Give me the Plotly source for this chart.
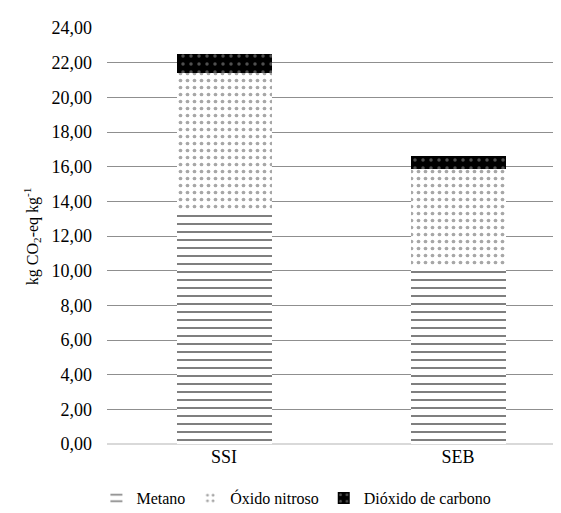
import plotly.graph_objects as go

categories = ["SSI", "SEB"]
metano = [13.43, 10.25]
oxido_nitroso = [7.97, 5.63]
dioxido_carbono = [1.10, 0.74]

series_names = ["Metano", "Óxido nitroso", "Dióxido de carbono"]
y_ticks = [0, 2, 4, 6, 8, 10, 12, 14, 16, 18, 20, 22, 24]
y_title = "kg CO<sub>2</sub>-eq kg<sup>-1</sup>"

FONT = "Liberation Serif, serif"

fig = go.Figure()
fig.add_trace(go.Bar(
    x=categories, y=metano, name=series_names[0],
    marker=dict(color="white", line=dict(width=0),
                pattern=dict(shape="-", fgcolor="black", bgcolor="white",
                             size=8, solidity=0.25)),
))
fig.add_trace(go.Bar(
    x=categories, y=oxido_nitroso, name=series_names[1],
    marker=dict(color="white", line=dict(width=0),
                pattern=dict(shape=".", fgcolor="#505050", bgcolor="white",
                             size=7, solidity=0.22)),
))
fig.add_trace(go.Bar(
    x=categories, y=dioxido_carbono, name=series_names[2],
    marker=dict(color="black", line=dict(width=0),
                pattern=dict(shape=".", fgcolor="#a0a0a0", bgcolor="black",
                             size=8, solidity=0.15)),
))

fig.add_annotation(
    text=y_title, xref="paper", yref="paper", x=-0.162, y=0.5,
    xanchor="center", yanchor="middle", textangle=-90, showarrow=False,
    font=dict(family=FONT, size=16, color="black"),
)

fig.update_layout(
    width=561, height=513,
    barmode="stack",
    bargap=0.594,
    separators=",.",
    paper_bgcolor="white",
    plot_bgcolor="white",
    font=dict(family=FONT, color="black", size=18),
    margin=dict(l=99, r=0, t=20, b=77, autoexpand=False),
    showlegend=True,
    legend=dict(orientation="h", x=0.41, xanchor="center", y=-0.13,
                yanchor="middle", font=dict(family=FONT, size=16),
                itemwidth=30, traceorder="normal", bgcolor="rgba(0,0,0,0)"),
    xaxis=dict(type="category", range=[-0.5, 1.474], showgrid=False,
               showline=False, ticks="", tickfont=dict(family=FONT, size=18),
               automargin=False),
    yaxis=dict(range=[0, 24], tickvals=y_ticks, tickformat=".2f",
               showgrid=True, gridcolor="#8f8f8f", gridwidth=1.2,
               zeroline=True, zerolinecolor="#d9d9d9", zerolinewidth=1.5,
               showline=False, ticks="", ticklabelstandoff=14,
               tickfont=dict(family=FONT, size=18), automargin=False),
)

fig.write_html("out.html")
